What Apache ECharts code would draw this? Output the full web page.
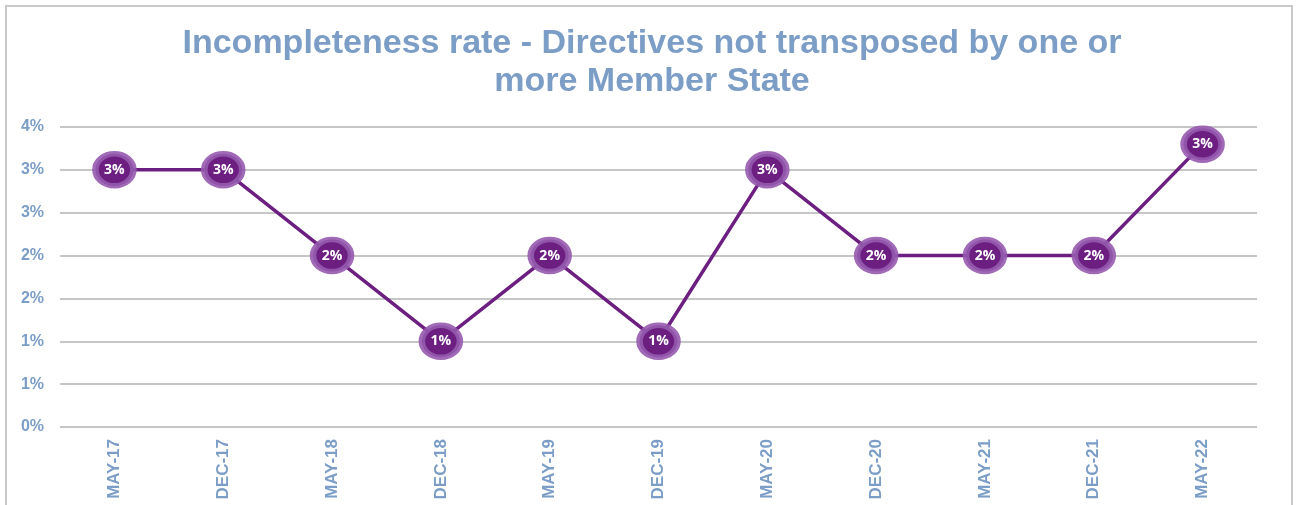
<!DOCTYPE html>
<html>
<head>
<meta charset="utf-8">
<script src="https://cdn.jsdelivr.net/npm/echarts@6/dist/echarts.min.js"></script>
<style>
  html, body { margin: 0; padding: 0; background: #fff; }
  #frame {
    position: absolute; left: 5px; top: 5px; width: 1288px; height: 520px;
    border: 2px solid #c9c9c9; box-sizing: border-box;
  }
  #chart { position: absolute; left: 0; top: 0; width: 1302px; height: 505px; }
</style>
</head>
<body>
<div id="frame"></div>
<div id="chart"></div>
<script>
// 数据
const categories = ['MAY-17', 'DEC-17', 'MAY-18', 'DEC-18', 'MAY-19', 'DEC-19',
                    'MAY-20', 'DEC-20', 'MAY-21', 'DEC-21', 'MAY-22'];
const rates = [3.0, 3.0, 2.0, 1.0, 2.0, 1.0, 3.0, 2.0, 2.0, 2.0, 3.3];
const yTicks = { min: 0, max: 3.5, interval: 0.5 };

const blueText = '#7b9dc6';
const purple = '#6c1f80';

const chart = echarts.init(document.getElementById('chart'));
chart.setOption({
    title: {
        text: 'Incompleteness rate - Directives not transposed by one or\nmore Member State',
        left: 647,
        textAlign: 'center',
        top: 20,
        textStyle: {
            fontFamily: 'Liberation Sans',
            fontWeight: 'bold',
            fontSize: 34,
            lineHeight: 38,
            color: blueText
        }
    },
    grid: { left: 60, right: 45, top: 127, height: 300 },
    xAxis: {
        type: 'category',
        data: categories,
        boundaryGap: true,
        axisLine: { show: false },
        axisTick: { show: false },
        axisLabel: {
            rotate: 90,
            margin: 12,
            fontFamily: 'Liberation Sans',
            fontWeight: 'bold',
            fontSize: 17,
            color: blueText
        }
    },
    yAxis: {
        type: 'value',
        min: yTicks.min,
        max: yTicks.max,
        interval: yTicks.interval,
        axisLine: { show: false },
        axisTick: { show: false },
        splitLine: { lineStyle: { color: '#c6c6c6', width: 2 } },
        axisLabel: {
            margin: 16,
            fontFamily: 'Liberation Sans',
            fontWeight: 'bold',
            fontSize: 16,
            color: blueText,
            formatter: v => Math.round(v) + '%'
        }
    },
    series: [{
        type: 'line',
        data: rates,
        symbol: 'circle',
        symbolSize: [38, 32],
        lineStyle: { color: purple, width: 3.5 },
        itemStyle: {
            color: purple,
            borderColor: 'rgba(150, 90, 175, 0.9)',
            borderWidth: 6
        },
        label: {
            show: true,
            position: 'inside',
            color: '#fff',
            fontFamily: 'Open Sans',
            fontWeight: 'bold',
            fontSize: 14,
            formatter: p => Math.round(p.value) + '%'
        },
        z: 3
    }],
    animation: false
});
</script>
</body>
</html>
